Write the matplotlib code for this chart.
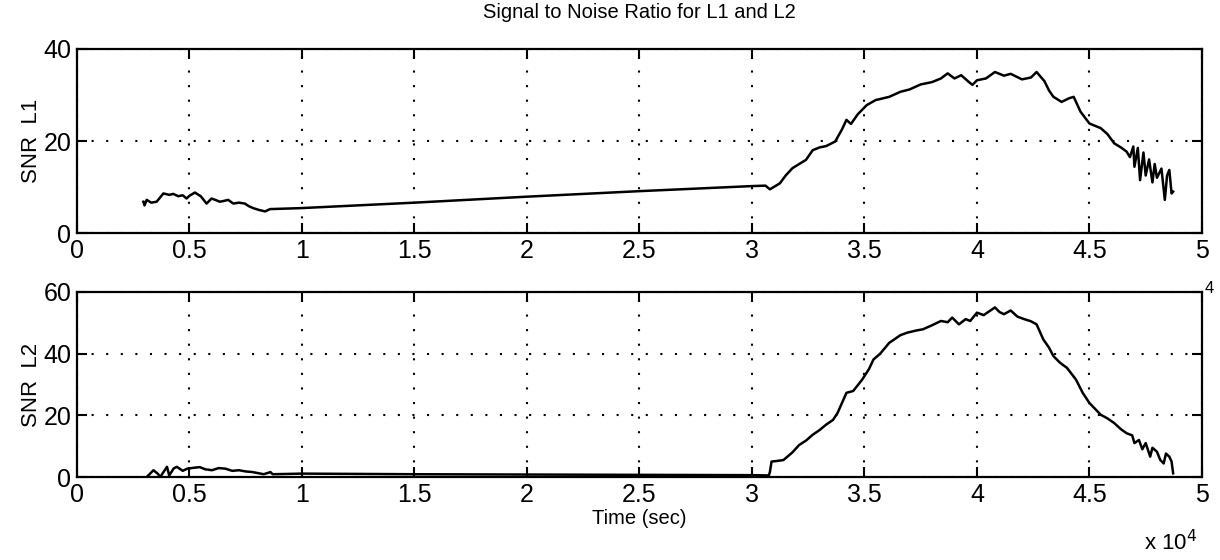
import matplotlib.pyplot as plt
import numpy as np
from matplotlib.ticker import FuncFormatter, MultipleLocator

plt.rcParams['font.family'] = ['Liberation Sans', 'DejaVu Sans']

# time in seconds, SNR values
t1 = [2950, 3000, 3100, 3300, 3540, 3840, 4100, 4280, 4500, 4700, 4870, 5000,
      5240, 5500, 5760, 5980, 6150, 6350, 6550, 6720, 6950, 7200, 7460, 7650,
      7840, 8100, 8360, 8580, 9900, 15000, 20000, 25000, 30000, 30600, 30800,
      31240, 31500, 31800, 32400, 32700, 33000, 33300, 33700, 34000, 34200,
      34400, 34700, 35100, 35500, 36100, 36600, 37000, 37500, 38000, 38400,
      38700, 39000, 39300, 39600, 39800, 40000, 40400, 40800, 41200, 41500,
      42000, 42400, 42650, 43000, 43200, 43400, 43760, 44100, 44300, 44600,
      45000, 45500, 45800, 46100, 46400, 46650, 46800, 46950, 47000, 47150,
      47250, 47400, 47500, 47650, 47800, 47900, 48000, 48200, 48350, 48450,
      48550, 48650, 48720]
snr_l1 = [6.8, 6.0, 7.2, 6.6, 6.8, 8.6, 8.3, 8.5, 8.0, 8.2, 7.5, 8.1,
          8.8, 8.0, 6.4, 7.5, 7.2, 6.8, 7.0, 7.2, 6.4, 6.6, 6.4, 5.8,
          5.4, 5.0, 4.7, 5.2, 5.4, 6.6, 7.9, 9.1, 10.2, 10.3, 9.5,
          10.8, 12.5, 14.1, 15.9, 18.0, 18.6, 18.9, 19.9, 22.5, 24.6,
          23.7, 25.8, 27.8, 28.9, 29.6, 30.7, 31.2, 32.3, 32.8, 33.6,
          34.7, 33.6, 34.3, 33.0, 32.2, 33.2, 33.6, 35.0, 34.2, 34.6,
          33.4, 33.8, 35.0, 33.0, 31.0, 29.6, 28.5, 29.3, 29.6, 26.4,
          23.8, 22.8, 21.5, 19.5, 18.6, 17.7, 16.5, 18.8, 14.4, 18.5,
          11.5, 17.5, 12.5, 16.0, 11.0, 15.0, 12.0, 14.0, 7.2, 12.5,
          13.7, 8.6, 9.0]

t2 = [3100, 3400, 3600, 3700, 4000, 4100, 4300, 4440, 4700, 4900, 5200,
      5460, 5700, 6000, 6300, 6600, 6900, 7200, 7500, 7800, 8300, 8600,
      8700, 10000, 15000, 20000, 25000, 30000, 30750, 30800, 30870, 31100,
      31400, 31800, 32100, 32400, 32700, 33000, 33300, 33600, 33800, 34000,
      34200, 34500, 34900, 35200, 35400, 35700, 36100, 36600, 36900, 37300,
      37600, 38000, 38400, 38700, 38900, 39200, 39500, 39700, 40000, 40300,
      40600, 40800, 41000, 41200, 41500, 41800, 42100, 42400, 42650, 42950,
      43200, 43400, 43700, 44000, 44400, 44700, 45000, 45500, 45800, 46100,
      46400, 46650, 46900, 47000, 47200, 47350, 47500, 47700, 47800, 48000,
      48150, 48300, 48400, 48550, 48650, 48720]
snr_l2 = [0.0, 2.2, 1.0, 0.0, 3.3, 0.5, 2.8, 3.3, 2.0, 2.7, 3.0,
          3.2, 2.5, 2.2, 2.9, 2.7, 2.0, 2.2, 1.8, 1.6, 0.9, 1.6,
          0.9, 1.1, 0.9, 0.8, 0.7, 0.6, 0.5, 1.7, 5.0, 5.2,
          5.5, 8.0, 10.4, 11.8, 13.7, 15.2, 17.0, 18.5, 20.7, 24.0,
          27.3, 27.9, 31.6, 35.0, 38.1, 40.0, 43.5, 46.0, 46.8, 47.5,
          47.9, 49.2, 50.6, 50.2, 51.7, 49.5, 51.2, 50.6, 53.3, 52.5,
          54.0, 55.0, 53.5, 52.8, 54.0, 52.0, 51.2, 50.5, 49.5, 44.6,
          42.0, 39.2, 37.0, 35.4, 31.6, 27.3, 24.0, 20.2, 19.0, 17.5,
          15.5, 14.2, 13.5, 11.0, 12.0, 9.0, 11.0, 6.6, 9.5, 8.2,
          5.5, 4.4, 7.6, 6.6, 5.0, 1.2]

fig = plt.figure(figsize=(12.2, 5.6), dpi=100)
ax1 = fig.add_axes([0.0631, 0.5839, 0.9221, 0.3286])
ax2 = fig.add_axes([0.0631, 0.1482, 0.9221, 0.3304])

fmt = FuncFormatter(lambda v, p: ('%g' % (v / 1e4)))

for ax, t, s, ymax, ystep, lab in [(ax1, t1, snr_l1, 40, 20, 'SNR  L1'),
                                    (ax2, t2, snr_l2, 60, 20, 'SNR  L2')]:
    ax.plot(t, s, color='black', linewidth=1.8)
    ax.set_xlim(0, 50000)
    ax.set_ylim(0, ymax)
    ax.xaxis.set_major_locator(MultipleLocator(5000))
    ax.yaxis.set_major_locator(MultipleLocator(ystep))
    ax.xaxis.set_major_formatter(fmt)
    ax.grid(True, color='black', linestyle=(0, (1, 6)), linewidth=1.5)
    ax.tick_params(direction='in', top=True, right=True, length=7,
                   width=1.5, labelsize=18, pad=4)
    ax.set_ylabel(lab, fontsize=16, labelpad=1)
    for sp in ax.spines.values():
        sp.set_linewidth(1.6)

ax1.set_title('Signal to Noise Ratio for L1 and L2', fontsize=14.5, pad=22)
ax2.set_xlabel('Time (sec)', fontsize=14.5, labelpad=2)
fig.text(0.938, 0.018, r'x 10$^4$', fontsize=16)
fig.text(0.987, 0.477, '4', fontsize=12)

fig.savefig('out.png', dpi=100)
